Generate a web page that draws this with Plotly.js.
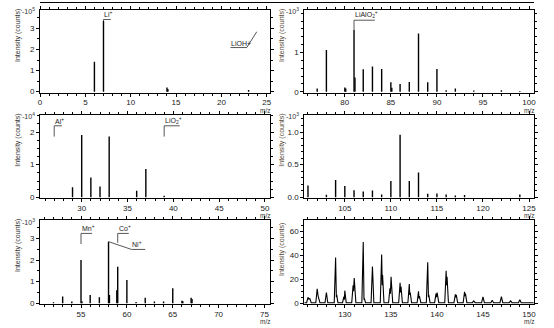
<!DOCTYPE html>
<html><head><meta charset="utf-8">
<script src="https://cdn.plot.ly/plotly-3.0.1.min.js"></script>
<style>html,body{margin:0;padding:0;background:#fff}#c{width:554px;height:328px}</style>
</head><body><div id="c"></div>
<script>
// ---- data (intensities in units of the axis multiplier) ----
const p1_mz  = [6, 7, 14, 14.1, 23];
const p1_int = [1.42, 3.35, 0.2, 0.12, 0.08];

const p2_mz  = [77, 78, 80, 80.1, 81, 81.1, 82, 83, 84, 85, 85.1, 86, 87, 88, 89, 90, 91, 92, 94, 97, 99];
const p2_int = [0.085, 1.06, 0.11, 0.08, 1.57, 0.36, 0.57, 0.64, 0.58, 0.24, 0.1, 0.195, 0.25, 1.48, 0.24, 0.58, 0.04, 0.08, 0.03, 0.035, 0.02];

const p3_mz  = [29, 30, 31, 32, 33, 36, 37, 39];
const p3_int = [0.31, 1.91, 0.61, 0.33, 1.86, 0.2, 0.87, 0.05];

const p4_mz  = [101, 103, 104, 105, 106, 107, 108, 109, 110, 111, 112, 113, 114, 115, 116, 117, 118, 124];
const p4_int = [0.18, 0.04, 0.265, 0.175, 0.11, 0.09, 0.105, 0.045, 0.25, 0.96, 0.25, 0.38, 0.055, 0.06, 0.045, 0.03, 0.035, 0.045];

const p5_mz  = [52, 53, 54, 55, 55.1, 56, 57, 58, 58.1, 58.9, 59, 60, 61, 62, 63, 64, 65, 66, 66.1, 67, 67.1];
const p5_int = [0.05, 0.31, 0.08, 2.0, 0.1, 0.38, 0.28, 2.85, 0.38, 0.6, 1.69, 1.08, 0.06, 0.26, 0.08, 0.08, 0.69, 0.12, 0.1, 0.26, 0.2];

// profile spectrum (counts)
const p6_mz = [125.6,
 125.85,126.0,126.1,126.2,126.35,
 126.85,127.0,127.1,127.15,127.3,
 127.85,128.0,128.15,
 128.85,129.0,129.08,129.12,129.25,
 129.75,129.9,129.95,130.0,130.15,
 130.75,130.9,130.95,131.02,131.2,
 131.85,132.0,132.08,132.12,132.25,
 132.85,133.0,133.15,
 133.85,134.0,134.06,134.1,134.25,
 134.75,134.9,134.95,135.02,135.2,
 135.85,136.0,136.05,136.1,136.25,
 136.85,137.0,137.05,137.1,137.25,
 137.85,138.0,138.05,138.1,138.25,
 138.85,139.0,139.08,139.12,139.25,
 139.75,139.9,139.95,140.02,140.2,
 140.85,141.0,141.05,141.1,141.25,
 141.85,142.0,142.05,142.1,142.25,
 142.85,143.0,143.05,143.1,143.25,
 143.85,144.0,144.15,
 144.85,145.0,145.15,
 145.85,146.0,146.15,
 146.85,147.0,147.15,
 147.85,148.0,148.15,
 148.85,149.0,149.15,
 150.5];
const p6_int = [0.5,
 0.5,5,3.5,4,0.5,
 0.5,12,6,4,0.5,
 0.5,9,0.5,
 0.5,38,5,7,0.5,
 0.5,5.5,3,10.5,0.5,
 0.5,15,10,21,0.5,
 0.5,51,3,4,0.5,
 0.5,30.5,0.5,
 0.5,40.5,15,23.5,0.5,
 0.5,12.5,8,22,0.5,
 0.5,17,9,14,0.5,
 0.5,16,7,9,0.5,
 0.5,10,4,6,0.5,
 0.5,34,5,7,0.5,
 0.5,8,5,9,0.5,
 0.5,27,15,22,0.5,
 0.5,7.5,5,7,0.5,
 0.5,9.5,6,8,0.5,
 0.5,2,0.5,
 0.5,5.3,0.5,
 0.5,2.5,0.5,
 0.5,5.5,0.5,
 0.5,2,0.5,
 0.5,3,0.5,
 0.5];

// peak labels: [panel, text, x, y]
const lbl_panel = [1, 1, 2, 3, 3, 5, 5, 5];
const lbl_text  = ['Li<sup>+</sup>', 'LiOH+', 'LiAlO<sub>2</sub><sup>+</sup>', 'Al<sup>+</sup>', 'LiO<sub>2</sub><sup>+</sup>', 'Mn<sup>+</sup>', 'Co<sup>+</sup>', 'Ni<sup>+</sup>'];
const lbl_x     = [7, 21, 81, 27, 39, 55, 59, 60.5];
const lbl_y     = [3.42, 2.09, 1.82, 2.19, 2.19, 3.23, 3.23, 2.49];
// leader lines: panel, polyline x & y
const lead_panel = [1, 1, 2, 3, 3, 5, 5, 5];
const lead_x = [[7, 7, 7.8], [21, 22.8, 23.9], [81, 81, 83.25], [27, 27, 27.85], [39, 39, 40.7], [55, 55, 56.2], [59, 59, 60.2], [58, 60.5, 62]];
const lead_y = [[3.35, 3.42, 3.42], [2.09, 2.09, 2.84], [1.57, 1.82, 1.82], [1.86, 2.19, 2.19], [1.86, 2.19, 2.19], [2.74, 3.23, 3.23], [2.8, 3.23, 3.23], [2.85, 2.49, 2.49]];

const mult_text = ['-10<sup>5</sup>', '-10<sup>3</sup>', '-10<sup>4</sup>', '-10<sup>3</sup>', '-10<sup>3</sup>', ''];

// ---- geometry ----
const W = 554, H = 328;
const colX = [[40, 270], [304.3, 534]];
const rowY = [[10, 92.7], [114.7, 198], [220, 304.3]];
const xr = [[0, 25.36], [75.6, 100.54], [25.45, 50.55], [100.6, 125.54], [50.53, 75.6], [125.6, 150.54]];
const yr = [[-0.05, 3.87], [-0.025, 2.08], [-0.02, 2.53], [-0.01, 1.265], [-0.046, 3.85], [-0.83, 69.2]];
const ytv = [[0,1,2,3], [0,1], [0,1,2], [0,0.5,1], [0,1,2,3], [0,20,40,60]];
const ytt = [['0','1','2','3'], ['0','1'], ['0','1','2'], ['0.0','0.5','1.0'], ['0','1','2','3'], ['0','20','40','60']];
const yminor = [0.5, 0.2, 0.25, 0.1, 0.5, 5];

const FONT = 'Liberation Sans, Arial, sans-serif';
const stickData = [[p1_mz,p1_int],[p2_mz,p2_int],[p3_mz,p3_int],[p4_mz,p4_int],[p5_mz,p5_int]];

const traces = [];
const layout = {
  width: W, height: H, margin: {l:0, r:0, t:0, b:0},
  paper_bgcolor: '#fff', plot_bgcolor: '#fff', showlegend: false,
  font: {family: FONT, size: 8, color: '#222'},
  annotations: [], shapes: []
};

for (let i = 0; i < 6; i++) {
  const col = i % 2, row = Math.floor(i / 2);
  const xs = i === 0 ? '' : String(i + 1);
  const xa = 'x' + xs, ya = 'y' + xs;
  const [x0, x1] = colX[col], [y0, y1] = rowY[row];
  layout['xaxis' + xs] = {
    domain: [x0 / W, x1 / W], range: xr[i], anchor: ya,
    dtick: 5, tick0: 0, ticks: 'outside', ticklen: 3, tickwidth: 1, tickcolor: '#000',
    minor: {dtick: 1, ticks: 'outside', ticklen: 2, tickcolor: '#000'},
    showline: true, linecolor: '#000', linewidth: 1, mirror: 'ticks', ticklabelstandoff: -1,
    showgrid: false, zeroline: false, tickfont: {size: 8, color: '#222'}
  };
  layout['yaxis' + xs] = {
    domain: [1 - y1 / H, 1 - y0 / H], range: yr[i], anchor: xa,
    tickvals: ytv[i], ticktext: ytt[i], ticks: 'outside', ticklen: 3, tickcolor: '#000',
    minor: {dtick: yminor[i], tick0: 0, ticks: 'outside', ticklen: 2, tickcolor: '#000'},
    showline: true, linecolor: '#000', linewidth: 1, mirror: 'ticks',
    showgrid: false, zeroline: false, tickfont: {size: 8, color: '#222'}
  };
  if (i < 5) {
    const [mz, it] = stickData[i];
    const X = [], Y = [];
    mz.forEach((m, k) => { X.push(m, m, null); Y.push(0, it[k], null); });
    traces.push({x: X, y: Y, xaxis: xa, yaxis: ya, mode: 'lines', line: {color: '#000', width: 1.4}, hoverinfo: 'skip'});
  } else {
    traces.push({x: p6_mz, y: p6_int, xaxis: xa, yaxis: ya, mode: 'lines', line: {color: '#000', width: 1.1}, hoverinfo: 'skip'});
  }
  // y title
  layout.annotations.push({
    xref: 'paper', yref: 'paper', x: (col === 0 ? 18 : 282) / W, y: 1 - (y0 + 26 + (i===5?4:0)) / H,
    text: 'Intensity (counts)', textangle: -90, showarrow: false,
    font: {size: 7, color: col === 0 ? '#333' : '#5a4a35'}, xanchor: 'center', yanchor: 'middle'
  });
  // m/z
  layout.annotations.push({
    xref: 'paper', yref: 'paper', x: (x1 - 5) / W, y: 1 - (y1 + 17.5) / H,
    text: 'm/z', showarrow: false, font: {size: 6.5, color: '#333'}, xanchor: 'center', yanchor: 'middle'
  });
  if (mult_text[i]) {
    layout.annotations.push({
      xref: 'paper', yref: 'paper', x: (x0 - 3) / W, y: 1 - (y0 + 1.5) / H,
      text: mult_text[i], showarrow: false, font: {size: 7, color: '#333'}, xanchor: 'right', yanchor: 'middle'
    });
  }
}

// leader lines
lead_panel.forEach((p, k) => {
  const xs = p === 1 ? '' : String(p);
  traces.push({x: lead_x[k], y: lead_y[k], xaxis: 'x' + xs, yaxis: 'y' + xs, mode: 'lines',
    line: {color: '#444', width: 0.9}, hoverinfo: 'skip'});
});
// labels
lbl_panel.forEach((p, k) => {
  const xs = p === 1 ? '' : String(p);
  layout.annotations.push({xref: 'x' + xs, yref: 'y' + xs, x: lbl_x[k], y: lbl_y[k], text: lbl_text[k],
    showarrow: false, xanchor: 'left', yanchor: 'bottom', yshift: -1, xshift: -1,
    font: {size: 7, color: '#222'}});
});

// remnant frame line at very top
layout.shapes.push({type: 'line', xref: 'paper', yref: 'paper', x0: 40 / W, x1: 534 / W, y0: 1 - 2.5 / H, y1: 1 - 2.5 / H, line: {color: '#000', width: 1}});

Plotly.newPlot('c', traces, layout, {staticPlot: true, displayModeBar: false});
</script></body></html>
